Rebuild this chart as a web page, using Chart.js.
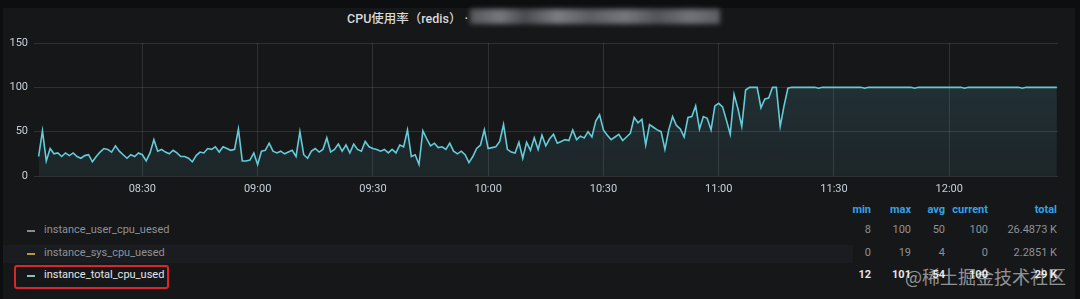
<!DOCTYPE html>
<html>
<head>
<meta charset="utf-8">
<script src="https://cdn.jsdelivr.net/npm/chart.js"></script>
<style>
  body { margin: 0; background: #0d0e10; width: 1080px; height: 299px; overflow: hidden; font-family: Roboto, "Noto Sans CJK SC", sans-serif; }
  #panel { position: absolute; left: 3px; top: 8px; width: 1072px; height: 300px; background: #161719; }
  #chartBox { position: absolute; left: 0; top: 0; width: 1080px; height: 200px; }
  .title { position: absolute; left: 347px; top: 8px; font-size: 12.5px; font-weight: 500; color: #d8d9da; }
  .blur { position: absolute; left: 470px; top: 9px; width: 250px; height: 15px; filter: blur(2.5px);
          background: linear-gradient(90deg, #55565a 0%, #77787c 12%, #4a4b4e 22%, #7c7d81 35%, #5c5d61 48%, #76777b 62%, #535458 75%, #727377 88%, #5c5d60 100%); }
  .hdr { position: absolute; top: 203px; font-size: 11px; font-weight: 700; color: #33a2e5; }
  .cell { position: absolute; font-size: 11px; color: #8e9196; }
  .name { position: absolute; left: 44px; font-size: 11px; color: #8e9196; }
  .dash { position: absolute; left: 27px; width: 8px; height: 2px; }
  .stripe { position: absolute; left: 3px; top: 245px; width: 850px; height: 18px; background: #1b1c1f; }
  .redbox { position: absolute; left: 14px; top: 265px; width: 151px; height: 20px; border: 2px solid #d8262a; border-radius: 3px; }
  .mark { position: absolute; left: 905px; top: 263px; font-size: 18px; color: rgba(255,255,255,0.55); font-family: "Noto Sans CJK SC", sans-serif; }
</style>
</head>
<body>
<div id="panel"></div>
<div class="stripe"></div>
<div class="title">CPU使用率（redis） ·</div>
<div class="blur"></div>
<div id="chartBox"><canvas id="cpuChart" width="1080" height="200"></canvas></div>
<div id="legend"></div>
<div class="redbox"></div>
<div class="mark">@稀土掘金技术社区</div>
<script>
// minutes since midnight of the first sample (08:03), one sample per minute
const startMinute = 483;
const cpuTotal = [
  22, 51, 17, 31, 25, 26, 22, 26, 23, 26,
  22, 20, 23, 24, 16, 22, 27, 31, 30, 27,
  34, 28, 24, 20, 24, 22, 26, 24, 17, 26,
  41, 28, 30, 27, 25, 29, 26, 22, 22, 20,
  16, 23, 27, 26, 31, 30, 33, 27, 33, 31,
  29, 30, 53, 17, 17, 18, 26, 13, 28, 29,
  37, 28, 26, 28, 25, 27, 29, 22, 50, 24,
  20, 28, 31, 27, 30, 43, 27, 30, 36, 28,
  35, 26, 36, 30, 28, 39, 33, 31, 30, 28,
  30, 26, 30, 26, 35, 33, 52, 22, 24, 13,
  51, 42, 34, 37, 32, 33, 30, 37, 28, 25,
  28, 24, 15, 22, 31, 35, 52, 31, 32, 33,
  39, 58, 30, 27, 26, 38, 20, 38, 29, 43,
  30, 46, 34, 42, 47, 37, 39, 41, 40, 52,
  41, 45, 43, 50, 44, 62, 69, 52, 46, 41,
  44, 47, 40, 44, 48, 66, 60, 64, 35, 58,
  55, 52, 50, 30, 52, 67, 57, 53, 44, 66,
  67, 79, 53, 67, 65, 52, 79, 82, 78, 63,
  47, 92, 76, 56, 97, 100, 100, 100, 77, 87,
  88, 100, 100, 56, 79, 99, 100, 100, 100, 100,
  100, 100, 100, 99, 100, 100, 100, 100, 100, 100,
  100, 100, 100, 100, 100, 99, 100, 100, 100, 100,
  100, 100, 100, 100, 100, 100, 100, 100, 99, 100,
  100, 100, 100, 100, 100, 100, 100, 100, 100, 100,
  100, 99, 100, 100, 100, 100, 100, 100, 100, 100,
  100, 100, 100, 100, 100, 100, 99, 100, 100, 100,
  100, 100, 100, 100, 100, 100
];
const timeTicks = ['08:30', '09:00', '09:30', '10:00', '10:30', '11:00', '11:30', '12:00'];
const yTicks = [0, 50, 100, 150];

const seriesNames = ['instance_user_cpu_uesed', 'instance_sys_cpu_uesed', 'instance_total_cpu_used'];
const seriesColors = ['#8a8b8e', '#b59a3a', '#8fbcc2'];
const statHeaders = ['min', 'max', 'avg', 'current', 'total'];
const statUser = ['8', '100', '50', '100', '26.4873 K'];
const statSys = ['0', '19', '4', '0', '2.2851 K'];
const statTotal = ['12', '101', '54', '100', '29 K'];

const toMin = s => { const p = s.split(':'); return +p[0] * 60 + +p[1]; };
const fmt = v => String(Math.floor(v / 60)).padStart(2, '0') + ':' + String(v % 60).padStart(2, '0');

const points = cpuTotal.map((v, i) => ({ x: startMinute + i, y: v }));

const ctx = document.getElementById('cpuChart').getContext('2d');
const fillGrad = ctx.createLinearGradient(0, 43, 0, 176);
fillGrad.addColorStop(0, 'rgba(110, 208, 224, 0.16)');
fillGrad.addColorStop(1, 'rgba(110, 208, 224, 0.08)');

const gridColor = 'rgba(255, 255, 255, 0.11)';
const tickFont = { family: 'Roboto', size: 11 };

new Chart(ctx, {
  type: 'line',
  data: {
    datasets: [{
      label: 'instance_total_cpu_used',
      data: points,
      borderColor: '#64cbd9',
      borderWidth: 1.6,
      backgroundColor: fillGrad,
      fill: 'origin',
      pointRadius: 0,
      tension: 0
    }]
  },
  options: {
    responsive: false,
    animation: false,
    layout: { padding: { top: 43, right: 22, left: 0, bottom: 0 } },
    plugins: { legend: { display: false }, tooltip: { enabled: false } },
    scales: {
      x: {
        type: 'linear',
        min: 481.8,
        max: 748.3,
        afterFit: s => { s.height = 24; },
        afterBuildTicks: s => { s.ticks = timeTicks.map(t => ({ value: toMin(t) })); },
        grid: { color: gridColor, drawTicks: false },
        border: { display: false },
        ticks: { color: '#c7d0d9', font: tickFont, padding: 7, maxRotation: 0, callback: v => fmt(v) }
      },
      y: {
        min: 0,
        max: 150,
        afterFit: s => { s.width = 34; },
        afterBuildTicks: s => { s.ticks = yTicks.map(v => ({ value: v })); },
        grid: { color: gridColor, drawTicks: false },
        border: { display: false },
        ticks: { color: '#c7d0d9', font: tickFont, padding: 6 }
      }
    }
  }
});

// legend table
const legend = document.getElementById('legend');
const rights = [871, 911, 945, 988, 1057];
statHeaders.forEach((h, i) => {
  const d = document.createElement('div');
  d.className = 'hdr';
  d.style.right = (1080 - rights[i]) + 'px';
  d.textContent = h;
  legend.appendChild(d);
});
const rowsY = [223, 246, 268];
const stats = [statUser, statSys, statTotal];
seriesNames.forEach((name, r) => {
  const dash = document.createElement('div');
  dash.className = 'dash';
  dash.style.top = (rowsY[r] + 7) + 'px';
  dash.style.background = seriesColors[r];
  legend.appendChild(dash);
  const n = document.createElement('div');
  n.className = 'name';
  n.style.top = rowsY[r] + 'px';
  n.textContent = name;
  if (r === 2) n.style.color = '#e4e5e6';
  legend.appendChild(n);
  stats[r].forEach((v, i) => {
    const c = document.createElement('div');
    c.className = 'cell';
    c.style.top = rowsY[r] + 'px';
    c.style.right = (1080 - rights[i]) + 'px';
    c.textContent = v;
    if (r === 2) { c.style.color = '#e4e5e6'; c.style.fontWeight = '700'; }
    legend.appendChild(c);
  });
});
</script>
</body>
</html>
